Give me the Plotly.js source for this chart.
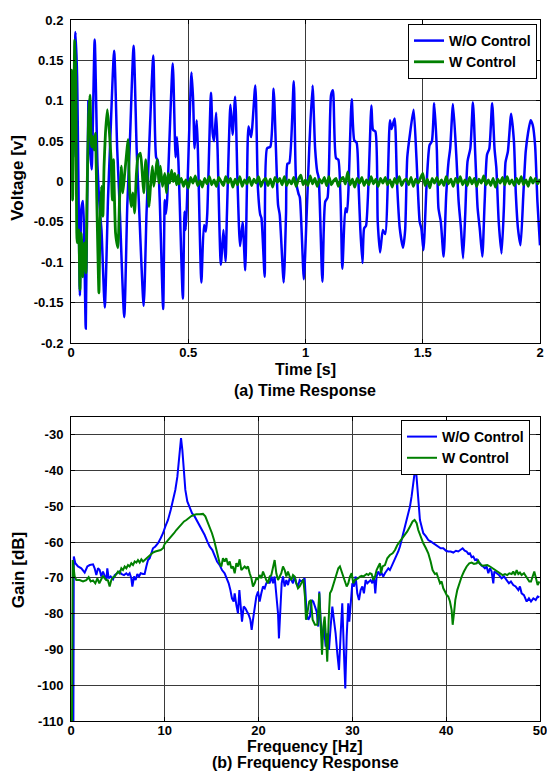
<!DOCTYPE html>
<html>
<head>
<meta charset="utf-8">
<script src="https://cdn.plot.ly/plotly-3.0.1.min.js"></script>
<style>html,body{margin:0;padding:0;background:#fff;}#chart{width:547px;height:772px;}</style>
</head>
<body>
<div id="chart"></div>
<script>
// ---- (a) Time response ----
const blueT = [0.000,0.003,0.010,0.019,0.026,0.038,0.044,0.051,0.063,0.074,0.081,0.088,0.101,0.113,0.124,0.130,0.144,0.158,0.166,0.184,0.197,0.206,0.227,0.240,0.250,0.267,0.280,0.290,0.310,0.322,0.333,0.351,0.363,0.370,0.378,0.393,0.400,0.405,0.410,0.434,0.446,0.452,0.458,0.477,0.484,0.489,0.494,0.514,0.521,0.527,0.536,0.541,0.556,0.567,0.575,0.581,0.597,0.604,0.610,0.619,0.625,0.639,0.650,0.659,0.665,0.680,0.689,0.700,0.710,0.721,0.732,0.743,0.750,0.757,0.768,0.786,0.797,0.807,0.812,0.826,0.836,0.850,0.864,0.874,0.883,0.890,0.907,0.917,0.923,0.931,0.950,0.960,0.970,0.976,0.993,1.005,1.016,1.030,1.041,1.050,1.056,1.072,1.084,1.094,1.109,1.117,1.130,1.140,1.157,1.170,1.177,1.197,1.208,1.218,1.227,1.234,1.243,1.250,1.258,1.281,1.288,1.298,1.308,1.318,1.330,1.340,1.360,1.367,1.380,1.390,1.402,1.416,1.425,1.434,1.446,1.461,1.473,1.487,1.494,1.503,1.517,1.529,1.539,1.549,1.560,1.567,1.577,1.589,1.600,1.610,1.617,1.629,1.643,1.653,1.663,1.672,1.681,1.691,1.703,1.714,1.724,1.734,1.743,1.754,1.764,1.774,1.784,1.796,1.806,1.814,1.824,1.836,1.846,1.853,1.863,1.877,1.889,1.897,1.906,1.917,1.929,1.939,1.949,1.960,1.969,1.979,1.989,2.000];
const blueV = [0.000,0.130,0.030,0.185,0.130,-0.141,-0.034,-0.024,-0.182,0.099,0.040,0.015,0.176,0.020,-0.040,-0.060,-0.156,-0.020,0.040,0.162,0.040,-0.020,-0.168,-0.030,0.040,0.168,0.040,-0.030,-0.154,-0.040,0.040,0.156,0.030,0.026,-0.020,-0.158,-0.023,-0.040,-0.022,0.146,0.030,0.055,0.025,-0.145,-0.037,-0.060,-0.030,0.135,0.100,0.041,0.076,0.040,-0.125,-0.054,-0.062,-0.040,0.110,0.060,0.050,0.085,0.040,-0.103,-0.060,-0.099,-0.040,0.095,0.058,0.105,0.000,-0.080,-0.050,-0.110,-0.010,0.068,0.055,0.119,-0.008,-0.041,-0.045,-0.118,0.041,0.043,0.115,0.040,-0.029,-0.041,-0.125,-0.040,0.022,0.023,0.124,0.000,-0.015,-0.020,-0.121,-0.040,0.041,0.119,0.041,0.012,0.005,-0.124,-0.025,-0.020,0.107,0.113,0.029,0.027,-0.108,-0.033,-0.038,0.102,0.051,0.048,-0.010,-0.060,-0.101,-0.058,-0.055,0.094,0.064,0.062,-0.050,-0.088,-0.060,-0.065,0.076,0.065,0.078,0.000,-0.058,-0.082,-0.060,0.030,0.060,0.089,0.030,-0.050,-0.058,-0.085,0.000,0.045,0.050,0.097,0.040,-0.033,-0.050,-0.093,-0.017,0.025,0.041,0.096,0.033,-0.025,-0.058,-0.095,-0.042,0.025,0.041,0.098,0.033,-0.033,-0.058,-0.093,-0.025,0.033,0.041,0.097,0.041,0.016,-0.050,-0.089,-0.033,0.024,0.037,0.084,0.049,-0.016,-0.058,-0.079,-0.016,0.037,0.060,0.076,0.070,0.045,-0.025,-0.079];

const greenT = [0.000,0.003,0.007,0.016,0.021,0.026,0.033,0.038,0.044,0.050,0.057,0.064,0.068,0.075,0.081,0.087,0.093,0.098,0.104,0.110,0.119,0.124,0.130,0.136,0.141,0.147,0.155,0.164,0.171,0.176,0.181,0.190,0.200,0.207,0.214,0.221,0.229,0.236,0.243,0.250,0.257,0.264,0.271,0.279,0.286,0.296,0.304,0.310,0.319,0.324,0.333,0.339,0.347,0.353,0.361,0.367,0.376,0.381,0.390,0.400,0.407,0.414,0.421,0.429,0.436,0.443,0.450,0.457,
0.46,0.47,0.48,0.49,0.50,0.51,0.52,0.53,0.54,0.55,0.56,0.57,0.58,0.59,0.60,0.61,0.62,0.63,0.64,0.65,0.66,0.67,0.68,0.69,0.70,0.71,0.72,0.73,0.74,0.75,0.76,0.77,0.78,0.79,0.80,0.81,0.82,0.83,0.84,0.85,0.86,0.87,0.88,0.89,0.90,0.91,0.92,0.93,0.94,0.95,0.96,0.97,0.98,0.99,1.00,1.01,1.02,1.03,1.04,1.05,1.06,1.07,1.08,1.09,1.10,1.11,1.12,1.13,1.14,1.15,1.16,1.17,1.18,1.19,1.20,1.21,1.22,1.23,1.24,1.25,1.26,1.27,1.28,1.29,1.30,1.31,1.32,1.33,1.34,1.35,1.36,1.37,1.38,1.39,1.40,1.41,1.42,1.43,1.44,1.45,1.46,1.47,1.48,1.49,1.50,1.51,1.52,1.53,1.54,1.55,1.56,1.57,1.58,1.59,1.60,1.61,1.62,1.63,1.64,1.65,1.66,1.67,1.68,1.69,1.70,1.71,1.72,1.73,1.74,1.75,1.76,1.77,1.78,1.79,1.80,1.81,1.82,1.83,1.84,1.85,1.86,1.87,1.88,1.89,1.90,1.91,1.92,1.93,1.94,1.95,1.96,1.97,1.98,1.99,2.00];
const greenV = [0.000,0.138,-0.023,0.175,0.118,-0.076,-0.060,-0.134,-0.064,-0.118,-0.076,-0.113,-0.023,0.080,0.107,0.043,0.056,0.039,0.060,-0.023,-0.138,-0.047,-0.006,-0.043,0.019,0.060,0.089,0.060,0.027,-0.023,0.027,-0.064,-0.082,-0.023,0.019,-0.014,0.010,0.031,0.052,-0.010,-0.031,-0.014,-0.039,0.010,0.031,0.035,0.010,-0.014,0.027,0.010,-0.031,-0.006,0.019,-0.006,0.010,0.027,-0.002,0.019,-0.006,0.010,-0.014,0.010,-0.002,0.014,0.000,0.010,-0.004,0.008,
-0.003,0.004,-0.006,0.002,-0.008,0.005,-0.002,0.007,-0.005,0.001,-0.007,0.004,-0.003,0.006,-0.004,0.002,-0.006,0.005,0.000,-0.005,0.006,-0.002,0.004,-0.007,0.003,-0.004,0.006,-0.006,0.002,-0.003,0.005,-0.005,0.003,-0.002,0.006,-0.006,0.001,0.004,-0.005,0.003,-0.007,0.005,-0.001,0.004,-0.004,0.006,-0.005,0.002,-0.003,0.005,-0.006,0.003,0.008,-0.004,0.002,-0.005,0.007,-0.003,0.004,-0.006,0.003,-0.002,0.005,-0.005,0.006,-0.004,0.001,0.004,-0.006,0.002,0.005,-0.003,0.012,-0.004,0.003,-0.007,0.004,-0.002,0.005,-0.005,0.002,-0.004,0.006,-0.003,0.003,-0.006,0.004,-0.002,0.005,-0.004,0.002,-0.007,0.004,-0.003,0.006,-0.005,0.001,0.003,-0.004,0.005,-0.006,0.003,-0.002,0.004,0.010,-0.005,0.003,-0.008,0.004,-0.002,0.005,-0.004,0.002,-0.005,0.006,-0.003,0.003,-0.006,0.004,-0.002,0.006,-0.004,0.002,-0.005,0.005,-0.003,0.004,-0.006,0.003,-0.002,0.007,-0.004,0.002,-0.005,0.004,-0.007,0.003,-0.002,0.005,-0.004,0.006,-0.003,0.002,-0.005,0.004,-0.003,0.006,-0.004,0.002,-0.006,0.005,-0.002,0.004,-0.003,0.003];

// ---- (b) Frequency response ----
const blueF = [0.25,0.30,0.46,0.75,1.10,1.46,1.74,2.00,2.35,2.52,2.70,2.88,3.06,3.23,3.41,3.59,3.77,3.87,4.02,4.23,4.48,4.66,4.94,5.19,5.37,5.65,5.90,6.08,6.25,6.43,6.54,6.72,6.89,7.07,7.25,7.43,7.68,7.85,8.03,8.21,8.39,8.56,8.74,8.99,9.28,9.56,9.81,10.06,10.34,10.63,10.87,11.12,11.34,11.51,11.62,11.73,11.87,12.01,12.19,12.40,12.65,12.90,13.18,13.47,13.72,14.00,14.25,14.53,14.78,15.07,15.32,15.57,15.85,16.10,16.38,16.63,16.81,16.99,17.16,17.34,17.45,17.63,17.80,17.95,18.09,18.23,18.41,18.59,18.76,18.94,19.12,19.26,19.40,19.58,19.76,19.94,20.11,20.29,20.47,20.65,20.82,21.00,21.18,21.36,21.54,21.71,21.89,22.07,22.17,22.32,22.46,22.60,22.78,22.96,23.13,23.31,23.49,23.67,23.84,24.02,24.20,24.38,24.56,24.73,24.91,25.12,25.30,25.48,25.65,25.83,26.01,26.19,26.36,26.47,26.61,26.79,26.97,27.15,27.32,27.50,27.68,27.86,28.03,28.21,28.39,28.57,28.75,28.92,29.10,29.24,29.39,29.56,29.67,29.81,29.99,30.17,30.35,30.52,30.70,30.88,31.06,31.23,31.41,31.59,31.77,31.94,32.12,32.30,32.44,32.58,32.76,32.94,33.12,33.29,33.47,33.65,33.83,34.00,34.18,34.36,34.54,34.71,34.89,35.07,35.25,35.43,35.60,35.78,35.96,36.14,36.31,36.49,36.63,36.78,36.92,37.06,37.20,37.38,37.56,37.84,38.09,38.34,38.62,38.91,39.16,39.41,39.69,39.98,40.22,40.47,40.76,41.04,41.29,41.54,41.75,41.97,42.18,42.36,42.53,42.71,42.89,43.07,43.25,43.42,43.60,43.78,43.95,44.13,44.31,44.49,44.67,44.84,45.02,45.13,45.38,45.63,45.91,46.16,46.44,46.69,46.90,47.15,47.40,47.69,47.86,48.04,48.29,48.58,48.82,49.04,49.29,49.54,49.75,49.93];
const blueG = [-115,-64.0,-65.9,-66.8,-67.3,-68.5,-66.8,-66.4,-66.2,-67.3,-69.2,-67.3,-67.8,-69.6,-68.2,-69.6,-70.6,-67.3,-70.1,-69.6,-70.4,-69.2,-68.7,-68.2,-68.9,-69.2,-68.7,-69.2,-68.7,-70.1,-72.4,-69.6,-70.6,-68.9,-69.6,-68.7,-68.9,-68.9,-66.8,-65.0,-64.5,-63.1,-61.7,-61.2,-60.3,-58.9,-57.5,-55.6,-53.8,-51.0,-48.6,-45.4,-41.7,-37.0,-33.3,-30.9,-34.2,-39.8,-45.4,-48.6,-50.5,-51.9,-52.8,-54.2,-55.6,-57.0,-58.0,-59.8,-61.2,-62.2,-64.0,-65.4,-66.4,-67.8,-68.7,-70.1,-71.5,-73.4,-75.7,-76.6,-74.3,-77.6,-79.9,-73.4,-78.0,-82.2,-78.0,-78.5,-79.4,-80.3,-81.7,-84.5,-81.7,-78.0,-75.2,-73.8,-76.6,-74.3,-72.4,-72.9,-71.5,-71.0,-71.5,-69.6,-71.5,-69.6,-74.3,-79.9,-86.9,-78.0,-71.5,-69.6,-72.4,-70.6,-72.0,-70.1,-70.6,-71.5,-69.6,-71.5,-72.4,-70.6,-71.0,-70.6,-70.1,-79.9,-81.7,-80.8,-76.2,-76.6,-78.0,-79.4,-83.6,-73.8,-81.7,-87.3,-83.6,-89.2,-85.5,-90.1,-83.6,-78.0,-81.7,-85.5,-91.1,-95.7,-85.5,-77.1,-91.1,-100.9,-86.4,-77.1,-82.2,-76.2,-71.5,-72.4,-69.6,-74.3,-76.2,-73.4,-72.4,-74.3,-70.6,-71.5,-71.0,-70.6,-71.5,-69.6,-74.3,-69.6,-68.2,-69.2,-68.7,-69.6,-68.7,-67.8,-67.3,-67.8,-66.8,-65.9,-65.0,-63.6,-62.6,-61.2,-59.4,-57.5,-55.6,-53.8,-51.9,-50.0,-47.2,-44.0,-40.7,-39.8,-43.5,-49.1,-53.8,-56.1,-57.5,-58.4,-59.4,-59.8,-60.3,-61.0,-61.2,-61.7,-61.7,-62.4,-62.6,-62.6,-62.9,-62.4,-62.6,-62.2,-61.7,-62.4,-62.6,-63.3,-63.1,-64.2,-64.0,-65.0,-64.8,-65.7,-65.9,-66.6,-66.8,-67.3,-66.8,-68.7,-67.3,-68.2,-71.5,-68.2,-68.7,-69.2,-70.1,-69.6,-70.6,-71.5,-71.0,-72.0,-72.4,-73.4,-72.4,-74.3,-74.8,-76.6,-75.7,-76.6,-75.7,-76.2,-75.2,-75.4];

const greenF = [0.10,0.18,0.39,0.57,0.92,1.28,1.63,1.88,2.10,2.35,2.59,2.81,3.02,3.23,3.41,3.59,3.77,3.94,4.12,4.30,4.48,4.66,4.83,5.01,5.19,5.37,5.54,5.72,5.90,6.08,6.25,6.43,6.61,6.79,6.97,7.14,7.32,7.50,7.68,7.85,8.03,8.21,8.49,8.74,8.99,9.28,9.56,9.81,9.99,10.23,10.52,10.77,10.98,11.23,11.48,11.76,12.05,12.30,12.54,12.83,13.11,13.36,13.72,14.07,14.32,14.53,14.78,15.03,15.25,15.49,15.67,15.85,16.03,16.20,16.38,16.56,16.74,16.92,17.09,17.27,17.45,17.63,17.80,17.98,18.16,18.34,18.51,18.69,18.87,19.05,19.23,19.40,19.58,19.76,19.94,20.11,20.29,20.47,20.65,20.82,21.00,21.18,21.36,21.54,21.71,21.89,22.07,22.25,22.42,22.60,22.78,22.96,23.13,23.31,23.49,23.67,23.84,24.02,24.20,24.38,24.56,24.77,24.94,25.05,25.19,25.40,25.58,25.76,26.01,26.26,26.47,26.61,26.76,26.90,27.04,27.18,27.32,27.47,27.61,27.79,27.96,28.14,28.32,28.50,28.67,28.85,29.03,29.21,29.39,29.56,29.74,29.92,30.10,30.27,30.45,30.63,30.81,30.98,31.16,31.34,31.52,31.70,31.87,32.05,32.23,32.41,32.58,32.76,32.94,33.05,33.22,33.47,33.72,34.00,34.29,34.54,34.79,35.07,35.35,35.60,35.85,36.14,36.42,36.63,36.85,37.02,37.27,37.56,37.84,38.09,38.34,38.55,38.80,38.98,39.16,39.34,39.51,39.69,39.87,40.05,40.22,40.40,40.58,40.69,40.83,40.97,41.18,41.40,41.65,41.89,42.18,42.46,42.71,42.96,43.25,43.42,43.60,43.88,44.13,44.38,44.67,44.95,45.20,45.45,45.73,46.02,46.27,46.51,46.73,46.98,47.15,47.33,47.51,47.69,47.86,48.04,48.29,48.50,48.68,48.86,49.04,49.21,49.39,49.57,49.75,49.93];
const greenG = [-115,-65.0,-69.6,-70.6,-70.6,-71.0,-70.6,-69.8,-71.0,-70.7,-71.5,-70.1,-71.5,-70.4,-69.4,-70.1,-70.6,-70.7,-72.4,-70.6,-69.8,-69.6,-68.9,-68.2,-68.7,-67.3,-67.8,-66.8,-67.3,-66.4,-66.8,-65.9,-66.4,-65.4,-65.7,-65.0,-65.7,-64.8,-65.4,-65.0,-64.5,-64.0,-63.6,-62.9,-62.6,-62.4,-62.2,-61.7,-60.5,-59.8,-58.9,-58.4,-57.5,-56.6,-55.8,-55.2,-54.2,-53.8,-53.3,-52.7,-52.4,-52.2,-52.2,-52.1,-52.8,-54.2,-55.6,-57.5,-59.4,-61.7,-64.0,-65.9,-66.8,-64.5,-65.4,-64.5,-66.4,-65.4,-67.3,-66.8,-68.7,-65.9,-66.8,-64.8,-67.8,-67.3,-66.8,-67.3,-66.8,-68.7,-70.1,-72.4,-71.5,-70.1,-70.4,-69.2,-70.1,-68.2,-69.6,-70.6,-71.5,-69.6,-69.2,-66.8,-65.0,-68.7,-70.6,-69.6,-68.7,-66.8,-67.8,-69.6,-68.2,-69.6,-70.6,-69.2,-69.6,-71.5,-72.9,-72.4,-71.5,-70.4,-75.2,-81.7,-79.9,-76.6,-76.2,-81.7,-83.1,-83.1,-74.3,-81.7,-91.5,-83.6,-80.8,-86.4,-93.4,-81.7,-74.3,-73.4,-72.0,-70.6,-69.2,-67.3,-66.8,-68.2,-69.6,-71.5,-72.4,-71.5,-69.6,-68.7,-71.5,-70.6,-70.4,-70.1,-69.6,-69.4,-69.6,-69.2,-68.9,-69.2,-68.7,-68.9,-70.6,-69.6,-67.8,-66.8,-65.9,-68.7,-66.8,-66.4,-64.5,-63.6,-63.1,-62.2,-60.8,-59.8,-58.9,-58.0,-57.0,-55.6,-54.2,-53.8,-54.7,-56.6,-58.4,-60.3,-61.7,-63.1,-65.4,-67.8,-68.9,-68.7,-70.1,-71.5,-71.0,-72.9,-73.8,-74.8,-75.2,-76.6,-79.0,-83.1,-79.9,-76.2,-73.4,-71.5,-69.6,-68.2,-66.8,-65.9,-65.7,-66.1,-65.9,-65.2,-66.1,-66.6,-66.4,-66.4,-66.8,-67.3,-67.8,-68.2,-68.9,-69.2,-68.9,-69.2,-68.7,-68.9,-68.2,-69.2,-67.8,-68.9,-68.5,-69.2,-68.7,-69.6,-70.6,-71.0,-71.0,-69.6,-68.2,-70.1,-72.0,-71.0];

const names = ['W/O Control', 'W Control'];
const timeTicks = [0, 0.5, 1, 1.5, 2];
const timeTickText = ['0', '0.5', '1', '1.5', '2'];
const voltTicks = [0.2, 0.15, 0.1, 0.05, 0, -0.05, -0.1, -0.15, -0.2];
const voltTickText = ['0.2', '0.15', '0.1', '0.05', '0', '-0.05', '-0.1', '-0.15', '-0.2'];
const freqTicks = [0, 10, 20, 30, 40, 50];
const freqTickText = ['0', '10', '20', '30', '40', '50'];
const gainTicks = [-30, -40, -50, -60, -70, -80, -90, -100, -110];
const gainTickText = ['-30', '-40', '-50', '-60', '-70', '-80', '-90', '-100', '-110'];

const BLUE = '#0000ff', GREEN = '#008000';
const FONT = 'Liberation Sans, Arial, sans-serif';

const traces = [
  {x: blueT, y: blueV, xaxis: 'x', yaxis: 'y', mode: 'lines', name: names[0], legend: 'legend',
   line: {color: BLUE, width: 2.5, shape: 'spline', smoothing: 0.6}},
  {x: greenT, y: greenV, xaxis: 'x', yaxis: 'y', mode: 'lines', name: names[1], legend: 'legend',
   line: {color: GREEN, width: 2.8, shape: 'spline', smoothing: 0.5}},
  {x: blueF, y: blueG, xaxis: 'x2', yaxis: 'y2', mode: 'lines', name: names[0], legend: 'legend2',
   line: {color: BLUE, width: 2}},
  {x: greenF, y: greenG, xaxis: 'x2', yaxis: 'y2', mode: 'lines', name: names[1], legend: 'legend2',
   line: {color: GREEN, width: 2}}
];

const tickfont = {family: FONT, size: 13, color: '#000', weight: 'bold'};
function ax(extra) {
  return Object.assign({
    showgrid: true, gridcolor: '#3a3a3a', gridwidth: 1,
    showline: true, linecolor: '#000', linewidth: 1, mirror: 'ticks',
    ticks: 'inside', ticklen: 4, tickcolor: '#000',
    zeroline: false, tickfont: tickfont, tickmode: 'array', fixedrange: true,
    ticklabeloverflow: 'allow'
  }, extra);
}
const legendBase = {
  bgcolor: '#fff', bordercolor: '#000', borderwidth: 1,
  font: {family: FONT, size: 14, color: '#000', weight: 'bold'},
  xanchor: 'right', yanchor: 'top', tracegroupgap: 0, itemwidth: 30
};
const titleFont = {family: FONT, size: 16, color: '#000', weight: 'bold'};
const ylabFont = {family: FONT, size: 17, color: '#000', weight: 'bold'};

const layout = {
  width: 547, height: 772,
  margin: {l: 71, r: 7, t: 20, b: 51},
  paper_bgcolor: '#fff', plot_bgcolor: '#fff',
  showlegend: true,
  xaxis: ax({domain: [0, 1], anchor: 'y', range: [0, 2], tickvals: timeTicks, ticktext: timeTickText, ticklabelstandoff: -3}),
  yaxis: ax({domain: [0.5392, 1], anchor: 'x', range: [-0.2, 0.2], tickvals: voltTicks, ticktext: voltTickText, ticklabelstandoff: 4}),
  xaxis2: ax({domain: [0, 1], anchor: 'y2', range: [0, 50], tickvals: freqTicks, ticktext: freqTickText, ticklabelstandoff: -3}),
  yaxis2: ax({domain: [0, 0.4337], anchor: 'x2', range: [-110, -25], tickvals: gainTicks, ticktext: gainTickText, ticklabelstandoff: 4}),
  legend: Object.assign({}, legendBase, {x: 0.9936, y: 0.9943}),
  legend2: Object.assign({}, legendBase, {x: 0.9787, y: 0.4294}),
  annotations: [
    {text: 'Voltage [v]', xref: 'paper', yref: 'paper', x: -0.113, y: 0.775, textangle: -90, showarrow: false, font: ylabFont, xanchor: 'center', yanchor: 'middle'},
    {text: 'Time [s]', xref: 'paper', yref: 'paper', x: 0.499, y: 0.5012, showarrow: false, font: titleFont, xanchor: 'center', yanchor: 'middle'},
    {text: '(a) Time Response', xref: 'paper', yref: 'paper', x: 0.499, y: 0.4708, showarrow: false, font: titleFont, xanchor: 'center', yanchor: 'middle'},
    {text: 'Gain [dB]', xref: 'paper', yref: 'paper', x: -0.113, y: 0.215, textangle: -90, showarrow: false, font: ylabFont, xanchor: 'center', yanchor: 'middle'},
    {text: 'Frequency [Hz]', xref: 'paper', yref: 'paper', x: 0.499, y: -0.0357, showarrow: false, font: titleFont, xanchor: 'center', yanchor: 'middle'},
    {text: '(b) Frequency Response', xref: 'paper', yref: 'paper', x: 0.499, y: -0.0599, showarrow: false, font: titleFont, xanchor: 'center', yanchor: 'middle'}
  ]
};

Plotly.newPlot('chart', traces, layout, {displayModeBar: false, staticPlot: true});
</script>
</body>
</html>
